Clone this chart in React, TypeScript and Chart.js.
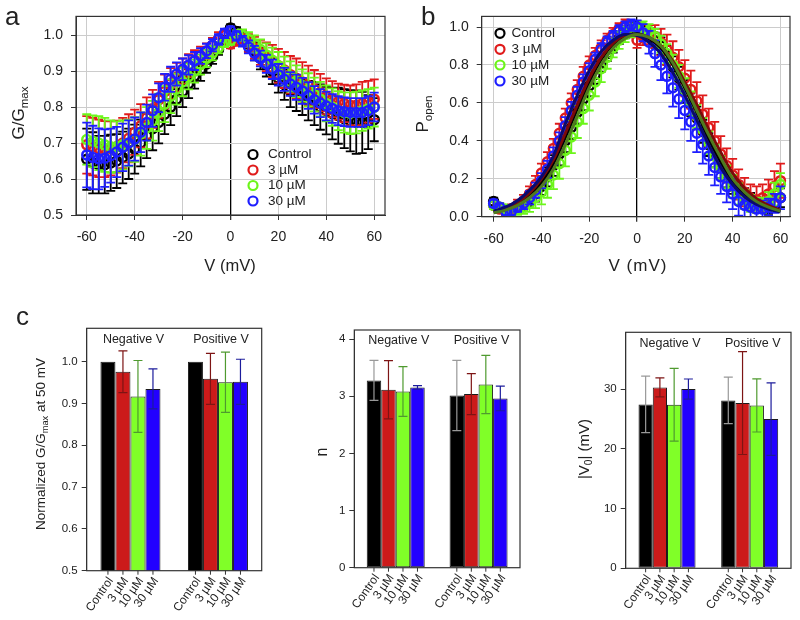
import { useEffect, useRef } from "react";
import { Chart, registerables } from "chart.js";

Chart.register(...registerables);

const FONT = "'Liberation Sans', Arial, Helvetica, sans-serif";
const INK = "#222222";

// ---------- shared ----------
const SERIES_NAMES = ["Control", "3 µM", "10 µM", "30 µM"];
const POINT_COLORS = ["#000000", "#e01b1b", "#6cf51a", "#1e1eff"];
const FIT_COLORS = ["#000000", "#7a0a0a", "#4f7a1f", "#0a0a6e"];
const BAR_COLORS = ["#000000", "#cc1a1a", "#80ff28", "#2200ff"];
const BAR_ERR_COLORS = ["#999999", "#7d1414", "#4f9a2f", "#1c1c9c"];

const X_TICKS = [-60, -40, -20, 0, 20, 40, 60];
const GG_TICKS = [0.5, 0.6, 0.7, 0.8, 0.9, 1.0];
const PO_TICKS = [0, 0.2, 0.4, 0.6, 0.8, 1.0];

const VOLTAGES = [
  -60, -57.5, -55, -52.5, -50, -47.5, -45,
  -42.5, -40, -37.5, -35, -32.5, -30, -27.5,
  -25, -22.5, -20, -17.5, -15, -12.5, -10,
  -7.5, -5, -2.5, 0, 2.5, 5, 7.5,
  10, 12.5, 15, 17.5, 20, 22.5, 25,
  27.5, 30, 32.5, 35, 37.5, 40, 42.5,
  45, 47.5, 50, 52.5, 55, 57.5, 60,
];

// ---------- panel a : G/Gmax ----------
const GG_CONTROL = [
  0.655, 0.645, 0.64, 0.64, 0.645, 0.65, 0.66,
  0.67, 0.683, 0.7, 0.72, 0.74, 0.757, 0.78,
  0.8, 0.822, 0.843, 0.865, 0.886, 0.903, 0.92,
  0.94, 0.96, 0.985, 1.02, 1.01, 0.995, 0.975,
  0.955, 0.935, 0.918, 0.9, 0.88, 0.862, 0.845,
  0.837, 0.828, 0.818, 0.81, 0.8, 0.79, 0.782,
  0.776, 0.768, 0.762, 0.758, 0.757, 0.758, 0.765,
];
const GG_CONTROL_ERR = [
  0.085, 0.085, 0.08, 0.08, 0.078, 0.075, 0.072,
  0.07, 0.068, 0.065, 0.062, 0.06, 0.058, 0.055,
  0.05, 0.047, 0.043, 0.04, 0.035, 0.03, 0.025,
  0.02, 0.015, 0.012, 0.01, 0.012, 0.015, 0.02,
  0.025, 0.03, 0.033, 0.036, 0.04, 0.042, 0.045,
  0.048, 0.05, 0.055, 0.06, 0.063, 0.066, 0.072,
  0.078, 0.082, 0.085, 0.088, 0.085, 0.075, 0.06,
];
const GG_3UM = [
  0.695, 0.69, 0.685, 0.683, 0.685, 0.69, 0.7,
  0.713, 0.73, 0.748, 0.77, 0.795, 0.82, 0.843,
  0.865, 0.883, 0.9, 0.915, 0.93, 0.943, 0.955,
  0.972, 0.99, 1.0, 0.975, 0.985, 0.99, 0.978,
  0.965, 0.952, 0.94, 0.928, 0.915, 0.903, 0.89,
  0.88, 0.87, 0.86, 0.85, 0.84, 0.83, 0.822,
  0.815, 0.81, 0.805, 0.805, 0.81, 0.815, 0.822,
];
const GG_3UM_ERR = [
  0.08, 0.08, 0.08, 0.078, 0.075, 0.072, 0.07,
  0.067, 0.063, 0.06, 0.057, 0.053, 0.05, 0.047,
  0.043, 0.04, 0.035, 0.032, 0.028, 0.025, 0.022,
  0.02, 0.018, 0.015, 0.012, 0.015, 0.02, 0.025,
  0.03, 0.035, 0.04, 0.045, 0.047, 0.05, 0.052,
  0.055, 0.055, 0.055, 0.053, 0.052, 0.05, 0.05,
  0.05, 0.052, 0.055, 0.058, 0.06, 0.058, 0.055,
];
const GG_10UM = [
  0.71, 0.705, 0.7, 0.695, 0.69, 0.69, 0.695,
  0.7, 0.71, 0.725, 0.742, 0.762, 0.785, 0.808,
  0.83, 0.85, 0.87, 0.885, 0.9, 0.918, 0.935,
  0.95, 0.965, 0.98, 0.985, 1.0, 1.0, 0.988,
  0.975, 0.96, 0.945, 0.93, 0.915, 0.9, 0.885,
  0.872, 0.86, 0.848, 0.835, 0.822, 0.81, 0.8,
  0.79, 0.785, 0.783, 0.785, 0.79, 0.795, 0.8,
];
const GG_10UM_ERR = [
  0.07, 0.072, 0.075, 0.075, 0.073, 0.07, 0.068,
  0.065, 0.062, 0.06, 0.058, 0.055, 0.052, 0.05,
  0.047, 0.043, 0.04, 0.036, 0.032, 0.028, 0.024,
  0.02, 0.016, 0.013, 0.012, 0.013, 0.016, 0.02,
  0.024, 0.028, 0.032, 0.035, 0.038, 0.04, 0.042,
  0.044, 0.045, 0.046, 0.047, 0.048, 0.05, 0.052,
  0.054, 0.056, 0.058, 0.058, 0.056, 0.055, 0.054,
];
const GG_30UM = [
  0.667, 0.66, 0.656, 0.658, 0.665, 0.675, 0.688,
  0.7, 0.711, 0.73, 0.757, 0.79, 0.826, 0.855,
  0.877, 0.892, 0.905, 0.917, 0.928, 0.942, 0.956,
  0.972, 0.988, 1.005, 1.012, 0.998, 0.983, 0.967,
  0.95, 0.935, 0.92, 0.905, 0.89, 0.877, 0.864,
  0.855, 0.845, 0.832, 0.82, 0.811, 0.803, 0.796,
  0.79, 0.787, 0.785, 0.785, 0.785, 0.79, 0.8,
];
const GG_30UM_ERR = [
  0.09, 0.088, 0.085, 0.08, 0.075, 0.07, 0.066,
  0.063, 0.06, 0.055, 0.05, 0.045, 0.04, 0.037,
  0.035, 0.032, 0.03, 0.027, 0.025, 0.022, 0.02,
  0.017, 0.015, 0.013, 0.012, 0.013, 0.015, 0.018,
  0.02, 0.022, 0.025, 0.027, 0.03, 0.032, 0.033,
  0.035, 0.036, 0.037, 0.038, 0.039, 0.04, 0.04,
  0.04, 0.04, 0.04, 0.04, 0.04, 0.04, 0.04,
];

// ---------- panel b : Popen ----------
const PO_CONTROL = [
  0.08, 0.05, 0.03, 0.03, 0.04, 0.06, 0.09,
  0.12, 0.16, 0.21, 0.27, 0.33, 0.4, 0.47,
  0.55, 0.62, 0.69, 0.75, 0.81, 0.86, 0.9,
  0.94, 0.97, 0.99, 1.0, 0.98, 0.96, 0.93,
  0.9, 0.85, 0.79, 0.73, 0.66, 0.59, 0.52,
  0.45, 0.38, 0.32, 0.26, 0.21, 0.17, 0.14,
  0.11, 0.09, 0.07, 0.06, 0.05, 0.07, 0.1,
];
const PO_CONTROL_ERR = [
  0.02, 0.02, 0.02, 0.02, 0.025, 0.03, 0.035,
  0.04, 0.045, 0.05, 0.055, 0.06, 0.06, 0.06,
  0.06, 0.058, 0.055, 0.05, 0.045, 0.04, 0.035,
  0.03, 0.03, 0.03, 0.03, 0.03, 0.035, 0.04,
  0.045, 0.05, 0.055, 0.06, 0.06, 0.06, 0.06,
  0.06, 0.06, 0.06, 0.058, 0.055, 0.05, 0.045,
  0.04, 0.035, 0.03, 0.03, 0.035, 0.045, 0.05,
];
const PO_3UM = [
  0.06, 0.04, 0.03, 0.04, 0.06, 0.08, 0.12,
  0.17, 0.23, 0.29, 0.36, 0.44, 0.52, 0.6,
  0.67, 0.74, 0.8, 0.85, 0.89, 0.93, 0.96,
  0.99, 1.01, 0.98, 0.93, 0.95, 0.96, 0.95,
  0.92, 0.88, 0.84, 0.79, 0.73, 0.67, 0.61,
  0.54, 0.47, 0.4, 0.33, 0.27, 0.22, 0.17,
  0.13, 0.1, 0.09, 0.1, 0.12, 0.16, 0.19,
];
const PO_3UM_ERR = [
  0.02, 0.02, 0.02, 0.025, 0.03, 0.035, 0.04,
  0.045, 0.05, 0.05, 0.05, 0.05, 0.05, 0.05,
  0.05, 0.05, 0.045, 0.04, 0.04, 0.035, 0.035,
  0.03, 0.03, 0.035, 0.04, 0.045, 0.05, 0.06,
  0.07, 0.08, 0.085, 0.09, 0.095, 0.1, 0.1,
  0.1, 0.1, 0.1, 0.095, 0.09, 0.085, 0.08,
  0.075, 0.07, 0.07, 0.07, 0.075, 0.08, 0.09,
];
const PO_10UM = [
  0.06, 0.05, 0.04, 0.03, 0.04, 0.05, 0.07,
  0.1, 0.13, 0.17, 0.22, 0.28, 0.35, 0.42,
  0.5, 0.57, 0.64, 0.71, 0.78, 0.84, 0.89,
  0.93, 0.96, 0.98, 0.99, 1.0, 0.98, 0.95,
  0.91, 0.86, 0.8, 0.74, 0.67, 0.6, 0.53,
  0.46, 0.39, 0.32, 0.26, 0.21, 0.16, 0.12,
  0.09, 0.07, 0.06, 0.06, 0.08, 0.12, 0.17,
];
const PO_10UM_ERR = [
  0.02, 0.02, 0.02, 0.025, 0.03, 0.035, 0.045,
  0.055, 0.065, 0.07, 0.075, 0.08, 0.085, 0.085,
  0.085, 0.08, 0.08, 0.075, 0.07, 0.06, 0.05,
  0.045, 0.04, 0.035, 0.03, 0.03, 0.035, 0.04,
  0.045, 0.05, 0.055, 0.06, 0.06, 0.06, 0.06,
  0.06, 0.06, 0.06, 0.06, 0.06, 0.06, 0.055,
  0.05, 0.045, 0.04, 0.04, 0.05, 0.06, 0.06,
];
const PO_30UM = [
  0.07, 0.05, 0.03, 0.03, 0.05, 0.07, 0.1,
  0.14, 0.19, 0.25, 0.32, 0.4, 0.48, 0.56,
  0.64, 0.71, 0.77, 0.83, 0.88, 0.92, 0.95,
  0.98, 1.0, 1.01, 1.0, 0.97, 0.92, 0.86,
  0.8, 0.74, 0.68, 0.62, 0.56, 0.5, 0.44,
  0.38, 0.32, 0.26, 0.21, 0.16, 0.12, 0.08,
  0.06, 0.05, 0.04, 0.04, 0.05, 0.07, 0.1,
];
const PO_30UM_ERR = [
  0.02, 0.02, 0.02, 0.02, 0.025, 0.03, 0.035,
  0.04, 0.04, 0.045, 0.045, 0.045, 0.045, 0.045,
  0.045, 0.04, 0.04, 0.035, 0.035, 0.03, 0.03,
  0.03, 0.03, 0.03, 0.035, 0.045, 0.06, 0.07,
  0.08, 0.09, 0.1, 0.1, 0.1, 0.1, 0.1,
  0.1, 0.1, 0.095, 0.09, 0.085, 0.08, 0.075,
  0.07, 0.06, 0.05, 0.045, 0.045, 0.05, 0.06,
];

// fitted curves (every 5 mV)
const FIT_VOLTAGES = [-60, -55, -50, -45, -40, -35, -30, -25, -20, -15, -10, -5, 0, 5, 10, 15, 20, 25, 30, 35, 40, 45, 50, 55, 60];
const FIT_CONTROL = [0.025, 0.04, 0.07, 0.115, 0.18, 0.28, 0.42, 0.57, 0.71, 0.83, 0.91, 0.955, 0.965, 0.94, 0.89, 0.8, 0.68, 0.55, 0.41, 0.29, 0.19, 0.12, 0.075, 0.045, 0.03];
const FIT_3UM = [0.025, 0.045, 0.075, 0.125, 0.2, 0.3, 0.44, 0.59, 0.73, 0.84, 0.915, 0.955, 0.96, 0.945, 0.9, 0.82, 0.71, 0.59, 0.46, 0.34, 0.23, 0.15, 0.095, 0.06, 0.035];
const FIT_10UM = [0.02, 0.035, 0.06, 0.1, 0.16, 0.25, 0.38, 0.53, 0.68, 0.8, 0.89, 0.94, 0.96, 0.945, 0.9, 0.81, 0.69, 0.56, 0.43, 0.31, 0.2, 0.13, 0.08, 0.05, 0.03];
const FIT_30UM = [0.03, 0.05, 0.085, 0.14, 0.21, 0.32, 0.49, 0.64, 0.77, 0.87, 0.93, 0.96, 0.955, 0.92, 0.86, 0.76, 0.64, 0.51, 0.38, 0.26, 0.17, 0.105, 0.065, 0.04, 0.025];

// ---------- panel c : bars ----------
const GROUPS = ["Negative V", "Positive V"];

const NG_CONTROL = [1.0, 1.0];
const NG_CONTROL_ERR = [0, 0];
const NG_3UM = [0.976, 0.959];
const NG_3UM_ERR = [0.05, 0.061];
const NG_10UM = [0.917, 0.951];
const NG_10UM_ERR = [0.086, 0.072];
const NG_30UM = [0.935, 0.952];
const NG_30UM_ERR = [0.048, 0.054];
const NG_TICKS = [0.5, 0.6, 0.7, 0.8, 0.9, 1.0];

const N_CONTROL = [3.277, 3.015];
const N_CONTROL_ERR = [0.35, 0.615];
const N_3UM = [3.114, 3.038];
const N_3UM_ERR = [0.51, 0.36];
const N_10UM = [3.085, 3.207];
const N_10UM_ERR = [0.435, 0.51];
const N_30UM = [3.155, 2.962];
const N_30UM_ERR = [0.03, 0.215];
const N_TICKS = [0, 1, 2, 3, 4];

const V0_CONTROL = [27.43, 28.1];
const V0_CONTROL_ERR = [4.72, 3.9];
const V0_3UM = [30.28, 27.65];
const V0_3UM_ERR = [1.6, 8.6];
const V0_10UM = [27.37, 27.26];
const V0_10UM_ERR = [6.1, 4.45];
const V0_30UM = [30.0, 24.97];
const V0_30UM_ERR = [1.68, 6.06];
const V0_TICKS = [0, 10, 20, 30];

// ---------- helpers ----------
type Seg = { t: string; sub?: boolean };

function drawRich(ctx: CanvasRenderingContext2D, segs: Seg[], x: number, y: number, size: number, rot: number) {
  ctx.save();
  ctx.translate(x, y);
  ctx.rotate(rot);
  const subSize = size * 0.68;
  const widths = segs.map((s) => {
    ctx.font = `${s.sub ? subSize : size}px ${FONT}`;
    return ctx.measureText(s.t).width;
  });
  const total = widths.reduce((a, b) => a + b, 0);
  let cx = -total / 2;
  ctx.textAlign = "left";
  ctx.textBaseline = "alphabetic";
  ctx.fillStyle = INK;
  const base = size * 0.36;
  segs.forEach((s, i) => {
    ctx.font = `${s.sub ? subSize : size}px ${FONT}`;
    ctx.fillText(s.t, cx, s.sub ? base + size * 0.22 : base);
    cx += widths[i];
  });
  ctx.restore();
}

function drawText(ctx: CanvasRenderingContext2D, t: string, x: number, y: number, size: number, align: CanvasTextAlign = "left", baseline: CanvasTextBaseline = "middle") {
  ctx.save();
  ctx.font = `${size}px ${FONT}`;
  ctx.fillStyle = INK;
  ctx.textAlign = align;
  ctx.textBaseline = baseline;
  ctx.fillText(t, x, y);
  ctx.restore();
}

const boxPlugin = {
  id: "box",
  afterDatasetsDraw(chart: any) {
    const { ctx, chartArea: a } = chart;
    ctx.save();
    ctx.strokeStyle = "#333333";
    ctx.lineWidth = 1.2;
    ctx.strokeRect(a.left, a.top, a.right - a.left, a.bottom - a.top);
    ctx.restore();
  },
};

function fixedTicks(values: number[]) {
  return (scale: any) => {
    scale.ticks = values.map((v) => ({ value: v }));
  };
}

function scatterErrorPlugin(errors: (number[] | null)[]) {
  return {
    id: "errbars",
    beforeDatasetDraw(chart: any, args: any) {
      const err = errors[args.index];
      if (!err) return;
      const ds = chart.data.datasets[args.index];
      const xs = chart.scales.x;
      const ys = chart.scales.y;
      const a = chart.chartArea;
      const ctx = chart.ctx;
      ctx.save();
      ctx.beginPath();
      ctx.rect(a.left, a.top, a.right - a.left, a.bottom - a.top);
      ctx.clip();
      ctx.strokeStyle = ds.borderColor;
      ctx.lineWidth = 1.8;
      ctx.beginPath();
      ds.data.forEach((p: any, i: number) => {
        const px = xs.getPixelForValue(p.x);
        const y1 = ys.getPixelForValue(p.y + err[i]);
        const y2 = ys.getPixelForValue(p.y - err[i]);
        ctx.moveTo(px, y1);
        ctx.lineTo(px, y2);
        ctx.moveTo(px - 4.5, y1);
        ctx.lineTo(px + 4.5, y1);
        ctx.moveTo(px - 4.5, y2);
        ctx.lineTo(px + 4.5, y2);
      });
      ctx.stroke();
      ctx.restore();
    },
  };
}

function decorPlugin(draw: (chart: any) => void) {
  return { id: "decor", afterDraw: draw };
}

function drawLegend(ctx: CanvasRenderingContext2D, cx: number, tx: number, rows: number[]) {
  rows.forEach((y, i) => {
    ctx.save();
    ctx.strokeStyle = POINT_COLORS[i];
    ctx.lineWidth = 2.2;
    ctx.beginPath();
    ctx.arc(cx, y, 4.5, 0, Math.PI * 2);
    ctx.stroke();
    ctx.restore();
    drawText(ctx, SERIES_NAMES[i], tx, y, 13.5);
  });
}

function scatterScales(xMin: number, xMax: number, yMin: number, yMax: number, yTicks: number[], yWidth: number, xHeight: number) {
  const tickFont = { family: FONT, size: 14 };
  return {
    x: {
      type: "linear",
      min: xMin,
      max: xMax,
      afterFit: (s: any) => {
        s.height = xHeight;
      },
      afterBuildTicks: fixedTicks(X_TICKS),
      ticks: { font: tickFont, color: INK, padding: 9, maxRotation: 0, autoSkip: false, callback: (v: any) => String(v) },
      grid: {
        color: (c: any) => (c.tick && c.tick.value === 0 ? "#000000" : "#cccccc"),
        lineWidth: (c: any) => (c.tick && c.tick.value === 0 ? 1.3 : 1),
        tickColor: "#333333",
        tickLength: 5,
      },
      border: { color: "#333333" },
    },
    y: {
      type: "linear",
      min: yMin,
      max: yMax,
      afterFit: (s: any) => {
        s.width = yWidth;
      },
      afterBuildTicks: fixedTicks(yTicks),
      ticks: { font: tickFont, color: INK, padding: 8, callback: (v: any) => Number(v).toFixed(1) },
      grid: { color: "#cccccc", lineWidth: 1, tickColor: "#333333", tickLength: 5 },
      border: { color: "#333333" },
    },
  };
}

function pointSet(vals: number[], i: number, order: number) {
  return {
    label: SERIES_NAMES[i],
    data: VOLTAGES.map((v, k) => ({ x: v, y: vals[k] })),
    borderColor: POINT_COLORS[i],
    backgroundColor: "rgba(0,0,0,0)",
    pointRadius: 4.5,
    pointBorderWidth: 2.5,
    pointStyle: "circle",
    showLine: false,
    order,
  };
}

function fitSet(vals: number[], i: number, order: number) {
  return {
    label: SERIES_NAMES[i] + " fit",
    data: FIT_VOLTAGES.map((v, k) => ({ x: v, y: vals[k] })),
    borderColor: FIT_COLORS[i],
    backgroundColor: FIT_COLORS[i],
    borderWidth: 3,
    pointRadius: 0,
    showLine: true,
    cubicInterpolationMode: "monotone",
    order,
  };
}

// ---------- chart configs ----------
function makePanelA(): any {
  const datasets = [
    pointSet(GG_CONTROL, 0, 8),
    pointSet(GG_3UM, 1, 7),
    pointSet(GG_10UM, 2, 6),
    pointSet(GG_30UM, 3, 5),
  ];
  const errors = [GG_CONTROL_ERR, GG_3UM_ERR, GG_10UM_ERR, GG_30UM_ERR];
  return {
    type: "scatter",
    data: { datasets },
    options: {
      animation: false,
      responsive: false,
      events: [],
      layout: { padding: { left: 0, top: 15, right: 15, bottom: 0 } },
      plugins: { legend: { display: false }, tooltip: { enabled: false } },
      scales: scatterScales(-64.5, 64.5, 0.5, 1.052, GG_TICKS, 76, 85),
    },
    plugins: [
      scatterErrorPlugin(errors),
      boxPlugin,
      decorPlugin((chart: any) => {
        const ctx = chart.ctx;
        drawLegend(ctx, 253, 268, [154.5, 170, 185.5, 201]);
        drawRich(ctx, [{ t: "G/G" }, { t: "max", sub: true }], 18, 113, 17, -Math.PI / 2);
        drawRich(ctx, [{ t: "V (mV)" }], 230, 265, 16.5, 0);
        drawText(ctx, "a", 5, 25, 26, "left", "alphabetic");
      }),
    ],
  };
}

function makePanelB(): any {
  const datasets = [
    pointSet(PO_CONTROL, 0, 8),
    pointSet(PO_3UM, 1, 7),
    pointSet(PO_10UM, 2, 6),
    pointSet(PO_30UM, 3, 5),
    fitSet(FIT_CONTROL, 0, 4),
    fitSet(FIT_3UM, 1, 3),
    fitSet(FIT_30UM, 3, 2),
    fitSet(FIT_10UM, 2, 1),
  ];
  const errors = [PO_CONTROL_ERR, PO_3UM_ERR, PO_10UM_ERR, PO_30UM_ERR, null, null, null, null];
  return {
    type: "scatter",
    data: { datasets },
    options: {
      animation: false,
      responsive: false,
      events: [],
      layout: { padding: { left: 0, top: 15, right: 10, bottom: 0 } },
      plugins: { legend: { display: false }, tooltip: { enabled: false } },
      scales: scatterScales(-65, 64, 0, 1.056, PO_TICKS, 81.7, 83.3),
    },
    plugins: [
      scatterErrorPlugin(errors),
      boxPlugin,
      decorPlugin((chart: any) => {
        const ctx = chart.ctx;
        drawLegend(ctx, 100, 111.5, [33.3, 49.3, 65, 81]);
        drawRich(ctx, [{ t: "P" }, { t: "open", sub: true }], 22, 114, 17, -Math.PI / 2);
        ctx.save();
        (ctx as any).letterSpacing = "1px";
        drawRich(ctx, [{ t: "V (mV)" }], 238, 265, 17, 0);
        ctx.restore();
        drawText(ctx, "b", 21, 25, 26, "left", "alphabetic");
      }),
    ],
  };
}

function makeBarChart(
  values: number[][],
  errors: number[][],
  yMin: number,
  yMax: number,
  yTicks: number[],
  decimals: number,
  yWidth: number,
  pad: { top: number; right: number; bottom: number },
  catPct: number,
  extra: (chart: any) => void
): any {
  const datasets = values.map((vals, i) => ({
    label: SERIES_NAMES[i],
    data: vals,
    backgroundColor: BAR_COLORS[i],
    borderColor: "#1a1a1a",
    borderWidth: 1,
    borderSkipped: false,
    categoryPercentage: catPct,
    barPercentage: 1,
  }));
  return {
    type: "bar",
    data: { labels: GROUPS, datasets },
    options: {
      animation: false,
      responsive: false,
      events: [],
      layout: { padding: { left: 0, top: pad.top, right: pad.right, bottom: pad.bottom } },
      plugins: { legend: { display: false }, tooltip: { enabled: false } },
      scales: {
        x: { display: false },
        y: {
          type: "linear",
          min: yMin,
          max: yMax,
          afterFit: (s: any) => {
            s.width = yWidth;
          },
          afterBuildTicks: fixedTicks(yTicks),
          ticks: { font: { family: FONT, size: 11.5 }, color: INK, padding: 4, callback: (v: any) => Number(v).toFixed(decimals) },
          grid: { drawOnChartArea: false, tickColor: "#333333", tickLength: 5 },
          border: { color: "#333333" },
        },
      },
    },
    plugins: [
      boxPlugin,
      {
        id: "barerr",
        afterDatasetsDraw(chart: any) {
          const ctx = chart.ctx;
          const ys = chart.scales.y;
          chart.data.datasets.forEach((ds: any, i: number) => {
            const meta = chart.getDatasetMeta(i);
            meta.data.forEach((el: any, j: number) => {
              const e = errors[i][j];
              if (!e) return;
              const v = ds.data[j];
              const x = el.x;
              const y1 = ys.getPixelForValue(v + e);
              const y2 = ys.getPixelForValue(v - e);
              ctx.save();
              ctx.strokeStyle = BAR_ERR_COLORS[i];
              ctx.lineWidth = 1.2;
              ctx.beginPath();
              ctx.moveTo(x, y1);
              ctx.lineTo(x, y2);
              ctx.moveTo(x - 4.5, y1);
              ctx.lineTo(x + 4.5, y1);
              ctx.moveTo(x - 4.5, y2);
              ctx.lineTo(x + 4.5, y2);
              ctx.stroke();
              ctx.restore();
            });
          });
        },
      },
      decorPlugin((chart: any) => {
        const ctx = chart.ctx;
        const a = chart.chartArea;
        const xs = chart.scales.x;
        GROUPS.forEach((g, j) => {
          drawText(ctx, g, xs.getPixelForValue(j) + 3, a.top + 11, 12.5, "center", "middle");
        });
        chart.data.datasets.forEach((_ds: any, i: number) => {
          const meta = chart.getDatasetMeta(i);
          meta.data.forEach((el: any) => {
            ctx.save();
            ctx.strokeStyle = "#333333";
            ctx.lineWidth = 1;
            ctx.beginPath();
            ctx.moveTo(el.x, a.bottom);
            ctx.lineTo(el.x, a.bottom + 4);
            ctx.stroke();
            ctx.translate(el.x + 3, a.bottom + 8);
            ctx.rotate((-55 * Math.PI) / 180);
            ctx.font = `12px ${FONT}`;
            ctx.fillStyle = INK;
            ctx.textAlign = "right";
            ctx.textBaseline = "middle";
            ctx.fillText(SERIES_NAMES[i], 0, 0);
            ctx.restore();
          });
        });
        extra(chart);
      }),
    ],
  };
}

function makeC1(): any {
  return makeBarChart(
    [NG_CONTROL, NG_3UM, NG_10UM, NG_30UM],
    [NG_CONTROL_ERR, NG_3UM_ERR, NG_10UM_ERR, NG_30UM_ERR],
    0.5,
    1.08,
    NG_TICKS,
    1,
    86.7,
    { top: 28.3, right: 8.3, bottom: 49.3 },
    0.686,
    (chart: any) => {
      const ctx = chart.ctx;
      drawRich(ctx, [{ t: "Normalized G/G" }, { t: "max", sub: true }, { t: " at 50 mV" }], 40, 144, 13.5, -Math.PI / 2);
      drawText(ctx, "c", 16, 25, 26, "left", "alphabetic");
    }
  );
}

function makeC2(): any {
  return makeBarChart(
    [N_CONTROL, N_3UM, N_10UM, N_30UM],
    [N_CONTROL_ERR, N_3UM_ERR, N_10UM_ERR, N_30UM_ERR],
    0,
    4.16,
    N_TICKS,
    0,
    84.3,
    { top: 30, right: 10, bottom: 52.3 },
    0.7,
    (chart: any) => {
      drawRich(chart.ctx, [{ t: "n" }], 51, 152, 16, -Math.PI / 2);
    }
  );
}

function makeC3(): any {
  return makeBarChart(
    [V0_CONTROL, V0_3UM, V0_10UM, V0_30UM],
    [V0_CONTROL_ERR, V0_3UM_ERR, V0_10UM_ERR, V0_30UM_ERR],
    0,
    39.5,
    V0_TICKS,
    0,
    95.7,
    { top: 32.3, right: 9, bottom: 51.7 },
    0.69,
    (chart: any) => {
      drawRich(chart.ctx, [{ t: "|V" }, { t: "0", sub: true }, { t: "| (mV)" }], 53.5, 149, 15, -Math.PI / 2);
    }
  );
}

function ChartCanvas(props: { left: number; top: number; width: number; height: number; make: () => any }) {
  const ref = useRef<HTMLCanvasElement | null>(null);
  useEffect(() => {
    if (!ref.current) return;
    const chart = new Chart(ref.current, props.make());
    return () => chart.destroy();
  }, []);
  return (
    <canvas
      ref={ref}
      width={props.width}
      height={props.height}
      style={{ position: "absolute", left: props.left, top: props.top, width: props.width, height: props.height }}
    />
  );
}

export default function App() {
  return (
    <div style={{ position: "fixed", left: 0, top: 0, width: 800, height: 620, background: "#ffffff", overflow: "hidden" }}>
      <ChartCanvas left={0} top={0} width={400} height={300} make={makePanelA} />
      <ChartCanvas left={400} top={0} width={400} height={300} make={makePanelB} />
      <ChartCanvas left={0} top={300} width={270} height={320} make={makeC1} />
      <ChartCanvas left={270} top={300} width={260} height={320} make={makeC2} />
      <ChartCanvas left={530} top={300} width={270} height={320} make={makeC3} />
    </div>
  );
}
